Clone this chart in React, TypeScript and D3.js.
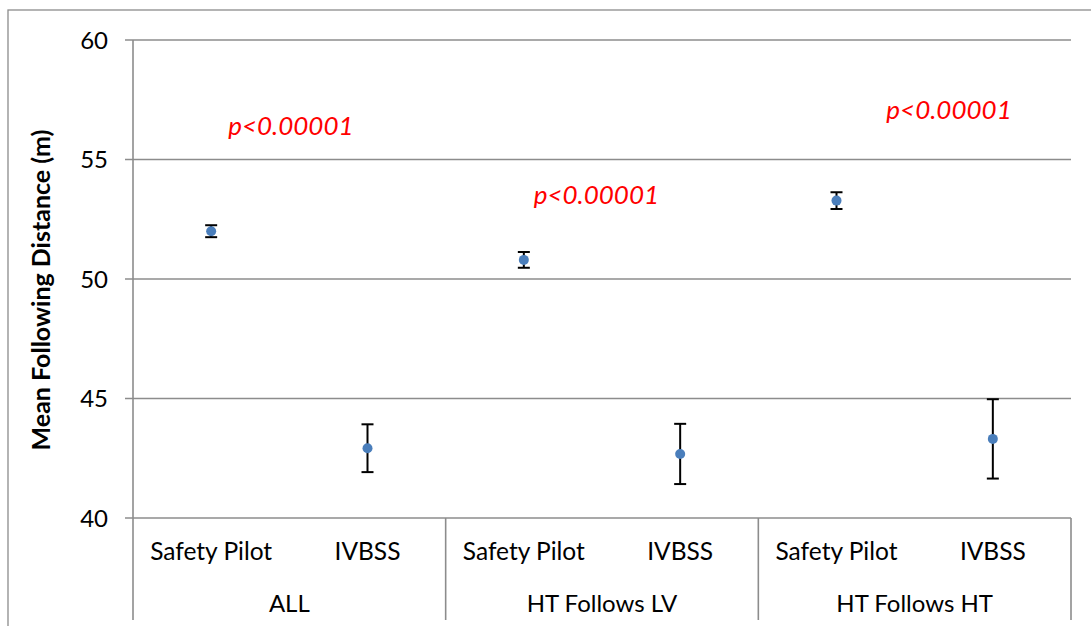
import React from "react";
import * as d3 from "d3";

const groups = ["ALL", "HT Follows LV", "HT Follows HT"];
const categories = ["Safety Pilot", "IVBSS"];
const means = [52.0, 42.92, 50.8, 42.68, 53.28, 43.31];
const errors = [0.25, 1.0, 0.33, 1.26, 0.35, 1.66];
const yTicks = [40, 45, 50, 55, 60];
const pLabels = ["p<0.00001", "p<0.00001", "p<0.00001"];
const pLabelValues = [56.4, 53.55, 57.1];
const pLabelFrac = [0.505, 0.482, 0.61];

const W = 1091;
const H = 626;
const left = 133;
const right = 1071;
const top = 40;
const bottom = 518;
const FONT = "Lato, 'Open Sans', sans-serif";

export default function App() {
  const y = d3.scaleLinear().domain([40, 60]).range([bottom, top]);
  const items = groups.flatMap((g) => categories.map((c) => `${g}|${c}`));
  const x = d3.scaleBand<string>().domain(items).range([left, right]).padding(0);
  const gx = d3.scaleBand<string>().domain(groups).range([left, right]).padding(0);
  const grid = "#8c8c8c";

  return (
    <svg
      width={W}
      height={H}
      style={{ position: "absolute", left: 0, top: 0, background: "#fff" }}
      fontFamily={FONT}
    >
      <rect x={8} y={10} width={W + 20} height={H + 20} fill="#fff" stroke={grid} strokeWidth={1.3} />
      {yTicks.map((t) => (
        <g key={t}>
          <line x1={left - 8} x2={right} y1={y(t)} y2={y(t)} stroke={grid} strokeWidth={1.6} />
          <text x={108} y={y(t)} dy="0.36em" textAnchor="end" fontSize={24} fill="#000">
            {t}
          </text>
        </g>
      ))}
      <line x1={left} x2={left} y1={top} y2={620} stroke={grid} strokeWidth={1.6} />
      {groups.map((g) => (
        <line
          key={g}
          x1={(gx(g) as number) + gx.bandwidth()}
          x2={(gx(g) as number) + gx.bandwidth()}
          y1={bottom}
          y2={620}
          stroke={grid}
          strokeWidth={1.6}
        />
      ))}
      {items.map((it) => {
        const c = it.split("|")[1];
        return (
          <text
            key={it}
            x={(x(it) as number) + x.bandwidth() / 2}
            y={560}
            textAnchor="middle"
            fontSize={24.5}
            fill="#000"
          >
            {c}
          </text>
        );
      })}
      {groups.map((g) => (
        <text
          key={g}
          x={(gx(g) as number) + gx.bandwidth() / 2}
          y={612}
          textAnchor="middle"
          fontSize={24}
          fill="#000"
        >
          {g}
        </text>
      ))}
      <text
        transform={`translate(50, 290) rotate(-90)`}
        textAnchor="middle"
        fontSize={25}
        fontWeight="bold"
        fill="#000"
      >
        Mean Following Distance (m)
      </text>
      {items.map((it, i) => {
        const cx = (x(it) as number) + x.bandwidth() / 2;
        const m = means[i];
        const e = errors[i];
        return (
          <g key={it}>
            <line x1={cx} x2={cx} y1={y(m + e)} y2={y(m - e)} stroke="#000" strokeWidth={2} />
            <line x1={cx - 6} x2={cx + 6} y1={y(m + e)} y2={y(m + e)} stroke="#000" strokeWidth={2} />
            <line x1={cx - 6} x2={cx + 6} y1={y(m - e)} y2={y(m - e)} stroke="#000" strokeWidth={2} />
            <circle cx={cx} cy={y(m)} r={5} fill="#4a7ebb" />
          </g>
        );
      })}
      {groups.map((g, i) => (
        <text
          key={g}
          x={(gx(g) as number) + gx.bandwidth() * pLabelFrac[i]}
          y={y(pLabelValues[i])}
          dy="0.36em"
          textAnchor="middle"
          fontSize={26}
          fontStyle="italic"
          fill="#ff0000"
        >
          {pLabels[i]}
        </text>
      ))}
    </svg>
  );
}
